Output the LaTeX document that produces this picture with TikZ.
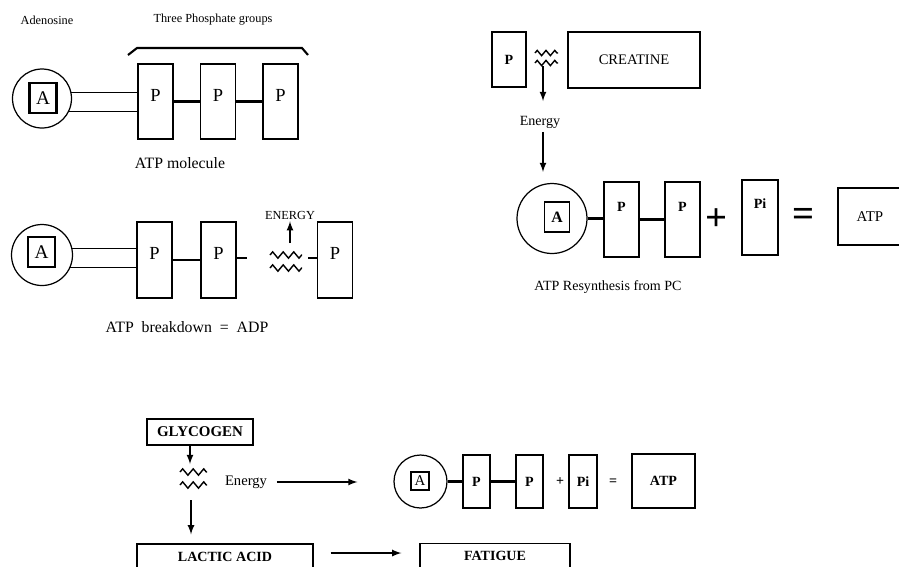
\documentclass[tikz,border=0pt]{standalone}
\usepackage{fontspec}
\setmainfont{Liberation Serif}
\usetikzlibrary{positioning, calc, decorations.pathmorphing}

\begin{document}
\begin{tikzpicture}[x=0.02cm, y=-0.02cm, >=latex,
    ring/.style={draw, circle, line width=0.7pt, inner sep=0pt},
    abox/.style={draw, line width=0.7pt, inner sep=0pt, minimum width=0.54cm, minimum height=0.6cm},
    pbox/.style={draw, line width=0.8pt, inner sep=0pt, minimum width=0.7cm, minimum height=1.5cm,
      text depth=7pt, font=\fontsize{10.5}{11}\selectfont},
    wordbox/.style={draw, line width=0.8pt, inner sep=0pt, font=\fontsize{8}{9}\selectfont\bfseries},
    bond/.style={line width=1.2pt},
    thinbond/.style={line width=0.6pt},
    arrowline/.style={->, line width=0.8pt},
    wiggle/.style={line width=0.8pt, decorate, decoration={zigzag, segment length=6pt, amplitude=1.8pt}},
    small/.style={inner sep=1pt, font=\fontsize{7}{8}\selectfont},
    caption/.style={inner sep=1pt, font=\fontsize{9}{10}\selectfont}]

  \useasboundingbox (0,0) rectangle (899,566);

  % ATP molecule
  \node[small] (adenosine) at (47,20) {Adenosine};
  \node[small] (groups) at (213,20) {Three Phosphate groups};
  \draw[line width=1.2pt] (128,55) -- (137,48) -- (302,48) -- (308,55);

  \node[ring, minimum size=1.18cm] (adeno1) at (42,98.5) {};
  \node[abox, line width=1.3pt, font=\fontsize{11}{12}\selectfont] (a1) at (43,98) {A};
  \node[pbox] (p11) at (155.5,101.5) {P};
  \node[pbox] (p12) at (218,101.5) {P};
  \node[pbox] (p13) at (280.5,101.5) {P};
  \draw[thinbond] (adeno1.12) -- (adeno1.12 -| p11.west);
  \draw[thinbond] (adeno1.-26) -- (adeno1.-26 -| p11.west);
  \draw[bond] (p11.east) -- (p12.west);
  \draw[bond] (p12.east) -- (p13.west);
  \node[caption] (atpmol) at (180,163) {ATP molecule};

  % ATP breakdown
  \node[ring, minimum size=1.22cm] (adeno2) at (42,255) {};
  \node[abox, line width=1.3pt, font=\fontsize{11}{12}\selectfont] (a2) at (41.5,252) {A};
  \node[pbox, minimum height=1.52cm, text depth=8pt] (p21) at (154.5,260) {P};
  \node[pbox, minimum height=1.52cm, text depth=8pt] (p22) at (218.5,260) {P};
  \node[pbox, minimum height=1.52cm, text depth=8pt] (p23) at (335,260) {P};
  \draw[thinbond] (adeno2.12) -- (adeno2.12 -| p21.west);
  \draw[thinbond] (adeno2.-24) -- (adeno2.-24 -| p21.west);
  \draw[bond] (p21.east) -- (p22.west);
  \coordinate (stub1) at (247,258);
  \coordinate (stub2) at (308,258);
  \draw[bond] (p22.east |- stub1) -- (stub1);
  \draw[bond] (stub2) -- (stub2 -| p23.west);
  \foreach \dy in {0,13}
    \draw[wiggle] (270,255+\dy) -- ++(32,0);
  \node[small] (energy2) at (290,215) {ENERGY};
  \coordinate (zz2) at (290,243);
  \draw[arrowline] (zz2) -- (energy2.south);
  \node[caption] (breakdown) at (187,327) {ATP\enspace breakdown\enspace =\enspace ADP};

  % ATP resynthesis from PC
  \node[pbox, minimum width=0.68cm, minimum height=1.1cm, text depth=0pt, font=\fontsize{8}{9}\selectfont\bfseries] (pc) at (509,59.5) {P};
  \node[draw, line width=0.8pt, minimum width=2.64cm, minimum height=1.12cm, font=\fontsize{8.3}{9}\selectfont] (creatine) at (634,60) {CREATINE};
  \foreach \dy in {0,10}
    \draw[wiggle, decoration={segment length=5pt, amplitude=1.5pt}] (535,53+\dy) -- ++(23,0);
  \coordinate (zz3) at (543,66);
  \node[inner sep=2pt, font=\fontsize{8}{9}\selectfont] (energy3) at (540,122) {Energy};
  \draw[arrowline, shorten >=0.22cm] (zz3) -- (zz3 |- energy3.north);
  \node[ring, minimum size=1.4cm] (adeno3) at (552,218.5) {};
  \draw[arrowline, shorten >=0.22cm] (energy3.south -| zz3) -- (zz3 |- adeno3.north);
  \node[abox, minimum width=0.5cm, font=\fontsize{9}{10}\selectfont\bfseries] (a3) at (557,217) {A};
  \node[pbox, text depth=14pt, font=\fontsize{8}{9}\selectfont\bfseries] (p31) at (621.5,219.5) {P};
  \node[pbox, text depth=14pt, font=\fontsize{8}{9}\selectfont\bfseries] (p32) at (682.5,219.5) {P};
  \draw[bond] (adeno3.east) -- (adeno3.east -| p31.west);
  \draw[bond] (p31.east) -- (p32.west);
  \node[inner sep=0pt, font=\fontsize{22}{22}\selectfont\bfseries] (plus3) at (717,220) {+};
  \node[pbox, minimum width=0.72cm, text depth=16pt, font=\fontsize{8}{9}\selectfont\bfseries] (pi3) at (760,217.5) {Pi};
  \node[inner sep=0pt, font=\fontsize{22}{22}\selectfont\bfseries] (equals3) at (804,217) {=};
  \node[draw, line width=0.8pt, minimum width=1.28cm, minimum height=1.14cm, font=\fontsize{8.5}{9}\selectfont] (atp3) at (870,216.5) {ATP};
  \node[inner sep=1pt, font=\fontsize{8}{9}\selectfont] (resynth) at (608,287) {ATP Resynthesis from PC};

  % Glycogen
  \node[wordbox, minimum width=2.12cm, minimum height=0.52cm, font=\fontsize{8.5}{9}\selectfont\bfseries] (glycogen) at (200,432) {GLYCOGEN};
  \coordinate (zz4) at (190,464);
  \draw[arrowline] (glycogen.south -| zz4) -- (zz4);
  \foreach \dy in {0,13}
    \draw[wiggle, decoration={segment length=6pt}] (180,472+\dy) -- ++(27,0);
  \node[inner sep=2pt, font=\fontsize{8.3}{9}\selectfont] (energy4) at (246,482) {Energy};
  \node[ring, minimum size=1.06cm] (adeno4) at (420.5,481.5) {};
  \draw[arrowline, shorten <=0.12cm, shorten >=0.72cm] (energy4.east) -- (energy4.east -| adeno4.west);
  \node[abox, minimum width=0.36cm, minimum height=0.36cm, font=\fontsize{8.5}{9}\selectfont] (a4) at (420,481) {A};
  \node[pbox, minimum width=0.54cm, minimum height=1.06cm, text depth=0pt, font=\fontsize{8}{9}\selectfont\bfseries] (p41) at (476.5,481.5) {P};
  \node[pbox, minimum width=0.54cm, minimum height=1.06cm, text depth=0pt, font=\fontsize{8}{9}\selectfont\bfseries] (p42) at (529.5,481.5) {P};
  \draw[bond] (adeno4.east) -- (p41.west);
  \draw[bond] (p41.east) -- (p42.west);
  \node[inner sep=0pt, font=\fontsize{8}{9}\selectfont\bfseries] (plus4) at (560,482) {+};
  \node[pbox, minimum width=0.56cm, minimum height=1.06cm, text depth=0pt, font=\fontsize{8}{9}\selectfont\bfseries] (pi4) at (583,481.5) {Pi};
  \node[inner sep=0pt, font=\fontsize{8}{9}\selectfont\bfseries] (equals4) at (613,482) {=};
  \node[wordbox, minimum width=1.26cm, minimum height=1.08cm] (atp4) at (663.5,481) {ATP};

  \node[wordbox, minimum width=3.52cm, minimum height=0.5cm] (lactic) at (225,556.5) {LACTIC ACID};
  \coordinate (zz4b) at (191,500);
  \draw[arrowline, shorten >=0.18cm] (zz4b) -- (zz4b |- lactic.north);
  \node[wordbox, minimum width=3cm, minimum height=0.5cm] (fatigue) at (495,556) {FATIGUE};
  \draw[arrowline, shorten <=0.34cm, shorten >=0.36cm] (lactic.east |- 0,553) -- (fatigue.west |- 0,553);
\end{tikzpicture}
\end{document}
